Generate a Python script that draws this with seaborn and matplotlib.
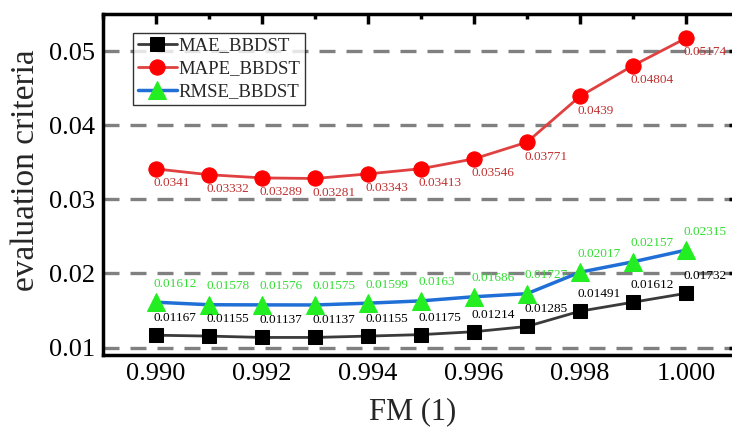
import matplotlib
matplotlib.use('Agg')
import matplotlib.pyplot as plt
import seaborn as sns
import numpy as np
import pandas as pd
from matplotlib.ticker import MultipleLocator, FormatStrFormatter

# Data
fm = [0.990, 0.991, 0.992, 0.993, 0.994, 0.995, 0.996, 0.997, 0.998, 0.999, 1.000]
mae = [0.01167, 0.01155, 0.01137, 0.01137, 0.01155, 0.01175, 0.01214, 0.01285, 0.01491, 0.01612, 0.01732]
mape = [0.0341, 0.03332, 0.03289, 0.03281, 0.03343, 0.03413, 0.03546, 0.03771, 0.0439, 0.04804, 0.05174]
rmse = [0.01612, 0.01578, 0.01576, 0.01575, 0.01599, 0.0163, 0.01686, 0.01727, 0.02017, 0.02157, 0.02315]

df = pd.DataFrame({'FM': fm, 'MAE_BBDST': mae, 'MAPE_BBDST': mape, 'RMSE_BBDST': rmse})

sns.set_style('white')
plt.rcParams['font.family'] = ['Liberation Serif', 'DejaVu Serif']
plt.rcParams['mathtext.fontset'] = 'stix'

fig = plt.figure(figsize=(7.32, 4.28), dpi=100)
# right spine sits just outside the picture, like the cropped original
ax = fig.add_axes([103 / 732, (428 - 355) / 428, 636 / 732, 341 / 428])

# horizontal dashed grid
for yv in [0.01, 0.02, 0.03, 0.04, 0.05]:
    ax.axhline(yv, color='#808080', lw=2.4, ls=(0, (4.8, 3.3)), zorder=0)

sns.lineplot(data=df, x='FM', y='MAE_BBDST', ax=ax, color='#3a3a3a', lw=2,
             marker='s', markersize=10, markerfacecolor='black', markeredgecolor='black',
             label='MAE_BBDST', zorder=3)
sns.lineplot(data=df, x='FM', y='MAPE_BBDST', ax=ax, color='#e04040', lw=2,
             marker='o', markersize=11, markerfacecolor='#ff0000', markeredgecolor='#ff0000',
             label='MAPE_BBDST', zorder=3)
sns.lineplot(data=df, x='FM', y='RMSE_BBDST', ax=ax, color='#1f6fd6', lw=2.5,
             marker='^', markersize=13, markerfacecolor='#22ee22', markeredgecolor='#22ee22',
             label='RMSE_BBDST', zorder=3)

# value labels
for x, v in zip(fm, mae):
    ax.annotate(f'{v:g}', (x, v), xytext=(-2, 8), textcoords='offset points',
                ha='left', va='bottom', fontsize=9.5, color='black')
for x, v in zip(fm, mape):
    ax.annotate(f'{v:g}', (x, v), xytext=(-2, -6), textcoords='offset points',
                ha='left', va='top', fontsize=9.5, color='#c03030')
for x, v in zip(fm, rmse):
    ax.annotate(f'{v:g}', (x, v), xytext=(-2, 9), textcoords='offset points',
                ha='left', va='bottom', fontsize=9.5, color='#33dd33')

ax.set_xlim(0.989, 1.001)
ax.set_ylim(0.009, 0.055)
ax.xaxis.set_major_locator(MultipleLocator(0.002))
ax.xaxis.set_minor_locator(MultipleLocator(0.001))
ax.yaxis.set_major_locator(MultipleLocator(0.01))
ax.yaxis.set_minor_locator(MultipleLocator(0.005))
ax.xaxis.set_major_formatter(FormatStrFormatter('%.3f'))
ax.yaxis.set_major_formatter(FormatStrFormatter('%.2f'))
ax.tick_params(which='both', direction='in', top=True, right=True, width=2.5, colors='black')
ax.tick_params(which='major', length=7, labelsize=19, pad=6)
ax.tick_params(which='minor', length=3.5)

for s in ax.spines.values():
    s.set_linewidth(2.5)
    s.set_color('black')

ax.set_xlabel('FM (1)', fontsize=22, family='Liberation Serif', va='top')
ax.xaxis.set_label_coords(0.487, -0.124)
ax.set_ylabel('evaluation criteria', fontsize=24, family='Liberation Serif')
ax.yaxis.set_label_coords(-0.097, 0.543)

leg = ax.legend(loc='upper left', bbox_to_anchor=(0.047, 0.945), fontsize=13.5, frameon=True,
                fancybox=False, edgecolor='black', borderpad=0.25, labelspacing=0.3,
                handlelength=2.1, handletextpad=0.1, borderaxespad=0)
leg.get_frame().set_linewidth(1.0)

fig.canvas.draw()
plt.setp(ax.get_xticklabels() + ax.get_yticklabels(), family='Liberation Serif')

fig.savefig('out.png', dpi=100)
